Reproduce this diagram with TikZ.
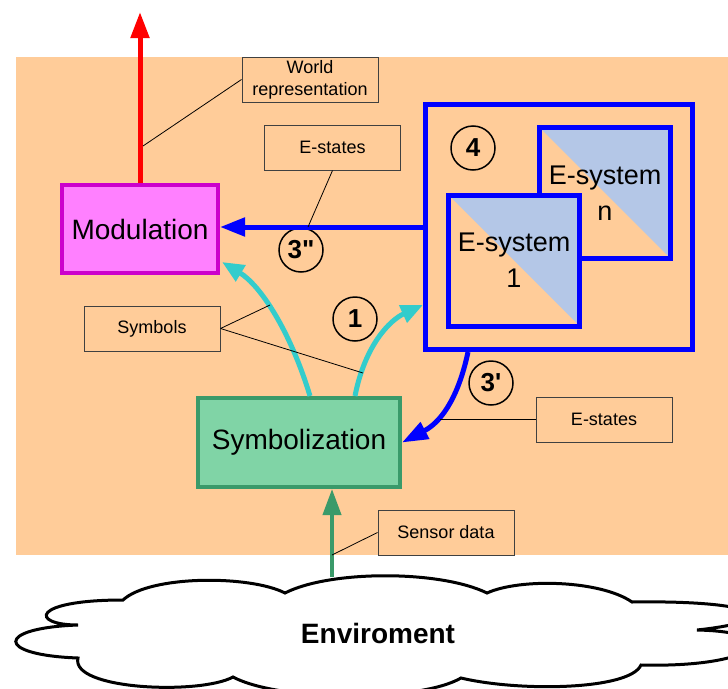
\documentclass[tikz,border=0pt]{standalone}
\usepackage{fontspec}
\setmainfont{Liberation Sans}
\usepackage{tikz}
\usetikzlibrary{arrows.meta,calc}
\usepackage{xcolor}
\definecolor{peach}{HTML}{FFCC99}
\definecolor{modfill}{HTML}{FF80FF}
\definecolor{modedge}{HTML}{CC00CC}
\definecolor{symfill}{HTML}{80D4A6}
\definecolor{symedge}{HTML}{3A9A6A}
\definecolor{esblue}{HTML}{B4C7E7}
\definecolor{symcyan}{HTML}{33CCCC}

\tikzset{
  lab/.style={draw=black!75, line width=1pt, minimum width=136pt, minimum height=45pt,
    inner sep=0pt, align=center, font=\fontsize{18}{22}\selectfont},
  num/.style={circle, draw, line width=1.5pt, minimum size=44pt, inner sep=0pt,
    font=\bfseries\fontsize{26}{30}\selectfont},
  esys/.style={draw=blue, line width=5pt, fill=peach, minimum width=131pt, minimum height=131pt,
    inner sep=0pt, align=center, font=\fontsize{27}{36}\selectfont,
    path picture={\fill[esblue] (path picture bounding box.north west) -- (path picture bounding box.north east)
      -- (path picture bounding box.south east) -- cycle;}},
  leader/.style={line width=0.8pt},
}

\begin{document}
\begin{tikzpicture}[x=1pt,y=1pt,yscale=-1,xscale=1]
\useasboundingbox (0,0) rectangle (728,688);
\clip (0,0) rectangle (728,688);

%Shape: Rectangle [background]
\fill[peach] (16,57) rectangle (728,555);

%Shape: Cloud
\draw[line width=3pt, fill=white] (123,600) .. controls (30,600) and (30,625) .. (78,625)
  .. controls (-5,628) and (-5,655) .. (78,658)
  .. controls (70,690) and (200,695) .. (233,677)
  .. controls (280,702) and (420,702) .. (461,678)
  .. controls (520,692) and (630,690) .. (641,665)
  .. controls (760,668) and (790,632) .. (697,630)
  .. controls (790,620) and (760,600) .. (632,602)
  .. controls (600,580) and (520,578) .. (487,593)
  .. controls (440,570) and (330,570) .. (285,593)
  .. controls (250,575) and (150,575) .. (123,600) -- cycle;
% Text Node
\node[font=\bfseries\fontsize{28}{34}\selectfont] (env) at (378,633) {Enviroment};
\coordinate (envtop) at (332,577);

% Modulation and Symbolization
\node[draw=modedge, fill=modfill, line width=4pt, minimum width=156pt, minimum height=88pt,
  inner sep=0pt, font=\fontsize{28}{34}\selectfont] (mod) at (140,229) {Modulation};
\node[draw=symedge, fill=symfill, line width=4pt, minimum width=202pt, minimum height=89pt,
  inner sep=0pt, font=\fontsize{28}{34}\selectfont] (symb) at (299,442.5) {Symbolization};

% E-systems
\node[draw=blue, line width=5pt, minimum width=267pt, minimum height=245pt, inner sep=0pt] (esgrp) at (559,227) {};
\node[esys] (esn) at (605,193) {E-system\\n};
\node[esys] (es1) at (514,260.5) {E-system\\1};

% Circled numbers
\node[num] (n4) at (473,148) {4};
\node[num] (n3b) at (301,250) {3\textquotedbl};
\node[num] (n1) at (355,319) {1};
\node[num] (n3a) at (491,383) {3\textquotesingle};

% Arrows
\coordinate (wrtop) at (140,12);
\draw[red, line width=5pt, -{Triangle[length=26pt,width=18pt]}] (mod.north) -- (wrtop);
\draw[blue, line width=5pt, -{Triangle[length=25pt,width=18pt]}] (esgrp.west) -- (esgrp.west -| mod.east);
\draw[symcyan, line width=5pt, -{Triangle[length=22pt,width=18pt]}] ($(symb.north)+(11,0)$)
  .. controls (290,330) and (260,285) .. ($(mod.south east)+(2,-13)$);
\draw[symcyan, line width=5pt, -{Triangle[length=22pt,width=18pt]}] ($(symb.north)+(56,0)$)
  .. controls (365,345) and (390,320) .. ($(esgrp.south west)+(0,-47)$);
\draw[blue, line width=5pt, -{Triangle[length=26pt,width=18pt]}] ($(esgrp.south west)+(45,0)$)
  .. controls (460,390) and (445,420) .. (symb.east);
\draw[symedge, line width=4pt, -{Triangle[length=26pt,width=18pt]}] (envtop) -- (envtop |- symb.south);

% Labels
\node[lab] (wrlab) at (310,79.5) {World\\representation};
\node[lab] (estop) at (332.5,147.5) {E-states};
\node[lab] (symlab) at (152,328.5) {Symbols};
\node[lab] (eslow) at (604,419.5) {E-states};
\node[lab] (senlab) at (446,532.5) {Sensor data};

% Leader lines
\coordinate (wrpt) at (143,146);
\coordinate (estpt) at (308,227);
\coordinate (sympt1) at (270,305);
\coordinate (sympt2) at (363,373);
\coordinate (eslpt) at (440,419.5);
\coordinate (senpt) at (332,555);
\draw[leader] (wrlab.west) -- (wrpt);
\draw[leader] (estop.south) -- (estpt);
\draw[leader] (symlab.east) -- (sympt1) (symlab.east) -- (sympt2);
\draw[leader] (eslow.west) -- (eslpt);
\draw[leader] (senlab.west) -- (senpt);

\end{tikzpicture}
\end{document}
